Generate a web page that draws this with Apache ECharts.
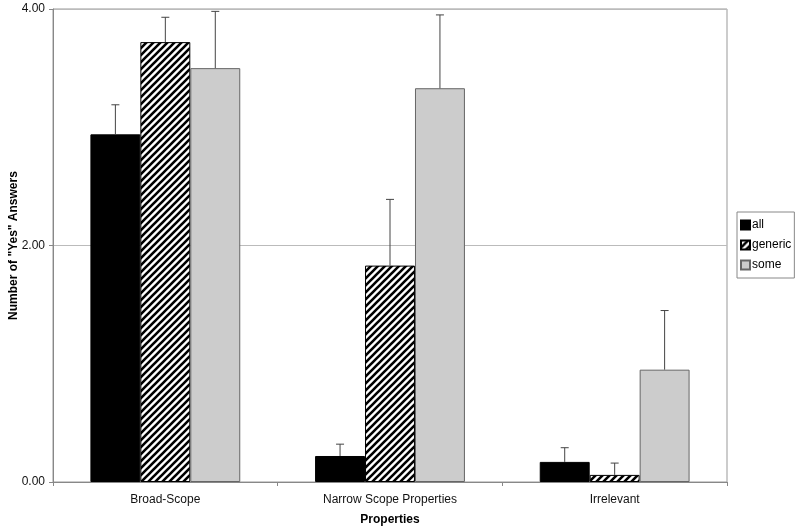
<!DOCTYPE html>
<html>
<head>
<meta charset="utf-8">
<script src="https://cdn.jsdelivr.net/npm/echarts@6/dist/echarts.min.js"></script>
<style>
  html, body { margin: 0; padding: 0; background: #fff; }
  #main { width: 800px; height: 531px; }
</style>
</head>
<body>
<div id="main"></div>
<script>
var categories = ['Broad-Scope', 'Narrow Scope Properties', 'Irrelevant'];
var seriesNames = ['all', 'generic', 'some'];
var allValues = [2.94, 0.22, 0.17];
var genericValues = [3.72, 1.83, 0.06];
var someValues = [3.50, 3.33, 0.95];
// upper error (only the top whisker is drawn)
var allErrors = [0.25, 0.10, 0.12];
var genericErrors = [0.21, 0.56, 0.10];
var someErrors = [0.48, 0.62, 0.50];
var yTicks = [0, 2, 4];

// diagonal black/white stripes
function makeHatch() {
    var size = 7;
    var c = document.createElement('canvas');
    c.width = size; c.height = size;
    var ctx = c.getContext('2d');
    ctx.fillStyle = '#fff';
    ctx.fillRect(0, 0, size, size);
    ctx.strokeStyle = '#000';
    ctx.lineWidth = 2.6;
    ctx.beginPath();
    ctx.moveTo(-1, size + 1); ctx.lineTo(size + 1, -1);
    ctx.moveTo(-1, 1); ctx.lineTo(1, -1);
    ctx.moveTo(size - 1, size + 1); ctx.lineTo(size + 1, size - 1);
    ctx.stroke();
    return c;
}

var gapRatio = 0.333;
var values = [allValues, genericValues, someValues];
var errors = [allErrors, genericErrors, someErrors];

function errorSeries(k) {
    var data = categories.map(function (c, i) {
        return [i, values[k][i], values[k][i] + errors[k][i]];
    });
    return {
        type: 'custom',
        name: seriesNames[k] + '-err',
        z: 5,
        silent: true,
        renderItem: function (params, api) {
            var bandW = api.size([1, 0])[0];
            var barW = bandW * (1 - gapRatio) / 3;
            var base = api.coord([api.value(0), api.value(1)]);
            var top = api.coord([api.value(0), api.value(2)]);
            var x = base[0] + (k - 1) * barW;
            var style = { stroke: '#444', lineWidth: 1 };
            return {
                type: 'group',
                children: [
                    { type: 'line', shape: { x1: x, y1: base[1], x2: x, y2: top[1] }, style: style },
                    { type: 'line', shape: { x1: x - 4, y1: top[1], x2: x + 4, y2: top[1] }, style: style }
                ]
            };
        },
        data: data
    };
}

var myChart = echarts.init(document.getElementById('main'));
var font = 'Liberation Sans, Arial, sans-serif';
var option = {
    animation: false,
    textStyle: { fontFamily: font },
    grid: {
        left: 53, right: 73, top: 9, bottom: 49,
        containLabel: false, outerBoundsMode: 'none',
        show: true, borderColor: '#999', borderWidth: 1
    },
    legend: {
        orient: 'vertical',
        left: 737, top: 212,
        data: seriesNames,
        icon: 'rect',
        itemWidth: 9, itemHeight: 9, itemGap: 8,
        padding: [7, 3, 7, 3],
        borderColor: '#888', borderWidth: 1,
        textStyle: { fontSize: 12, color: '#000', fontFamily: font, padding: [0, 0, 0, -3] }
    },
    xAxis: {
        type: 'category',
        data: categories,
        name: 'Properties',
        nameLocation: 'middle',
        nameGap: 32,
        nameMoveOverlap: false,
        nameTextStyle: { fontWeight: 'bold', fontSize: 12, color: '#000' },
        axisLine: { lineStyle: { color: '#888' } },
        axisTick: { show: true, length: 4, lineStyle: { color: '#888' } },
        axisLabel: { fontSize: 12, color: '#111', margin: 12 }
    },
    yAxis: {
        type: 'value',
        min: yTicks[0], max: yTicks[yTicks.length - 1], interval: 2,
        name: 'Number of "Yes" Answers',
        nameLocation: 'middle',
        nameGap: 33,
        nameMoveOverlap: false,
        nameTextStyle: { fontWeight: 'bold', fontSize: 12, color: '#000' },
        axisLine: { show: true, lineStyle: { color: '#888' } },
        axisTick: { show: true, length: 4, lineStyle: { color: '#888' } },
        axisLabel: { fontSize: 12, color: '#111', margin: 8, formatter: function (v) { return v.toFixed(2); } },
        splitLine: { lineStyle: { color: '#bbb' } }
    },
    series: [
        {
            name: 'all', type: 'bar', data: allValues,
            barGap: 0, barCategoryGap: '33.3%',
            itemStyle: { color: '#000', borderColor: '#000', borderWidth: 1 }
        },
        {
            name: 'generic', type: 'bar', data: genericValues,
            itemStyle: { color: { image: makeHatch(), repeat: 'repeat' }, borderColor: '#000', borderWidth: 1 }
        },
        {
            name: 'some', type: 'bar', data: someValues,
            itemStyle: { color: '#cccccc', borderColor: '#666', borderWidth: 1 }
        },
        errorSeries(0), errorSeries(1), errorSeries(2)
    ]
};
myChart.setOption(option);
</script>
</body>
</html>
